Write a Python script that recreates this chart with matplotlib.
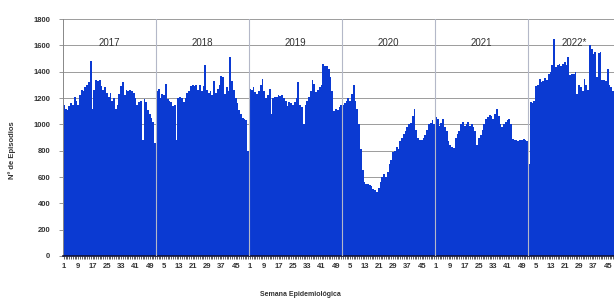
import matplotlib.pyplot as plt
import numpy as np

plt.rcParams['font.family'] = ['Liberation Sans', 'DejaVu Sans']

# weekly episodes per year
y2017 = [1150, 1120, 1110, 1140, 1160, 1150, 1210, 1180, 1150, 1220,
         1260, 1250, 1280, 1300, 1320, 1480, 1120, 1260, 1340, 1330,
         1340, 1290, 1260, 1280, 1240, 1210, 1240, 1180, 1200, 1120,
         1150, 1230, 1290, 1320, 1220, 1260, 1250, 1260, 1250, 1240,
         1200, 1150, 1170, 1180, 880, 1190, 1170, 1110, 1080, 1050,
         1020, 860]
y2018 = [1250, 1270, 1200, 1230, 1220, 1310, 1190, 1180, 1170, 1140,
         1150, 880, 1200, 1210, 1200, 1170, 1200, 1240, 1250, 1290,
         1300, 1290, 1300, 1260, 1300, 1250, 1290, 1450, 1260, 1240,
         1250, 1220, 1330, 1240, 1270, 1300, 1370, 1360, 1230, 1280,
         1250, 1510, 1330, 1260, 1200, 1160, 1110, 1080, 1050, 1040,
         1030, 800]
y2019 = [1270, 1260, 1280, 1245, 1230, 1250, 1300, 1347, 1250, 1200,
         1220, 1270, 1080, 1200, 1210, 1207, 1220, 1215, 1225, 1200,
         1180, 1140, 1170, 1165, 1150, 1170, 1200, 1321, 1150, 1130,
         1006, 1150, 1180, 1210, 1250, 1334, 1310, 1245, 1260, 1280,
         1300, 1461, 1440, 1445, 1420, 1360, 1250, 1100, 1120, 1110,
         1130, 1150]
y2020 = [1150, 1160, 1180, 1200, 1180, 1230, 1300, 1180, 1120, 1000,
         815, 650, 560, 550, 550, 540, 530, 510, 500, 485,
         520, 560, 600, 625, 600, 640, 700, 730, 790, 800,
         830, 810, 870, 900, 930, 950, 980, 1000, 1010, 1060,
         1120, 960, 900, 880, 880, 900, 920, 960, 1000, 1010,
         1030, 1000]
y2021 = [1055, 1040, 990, 1010, 1040, 980, 950, 870, 840, 830,
         820, 900, 930, 950, 1000, 1020, 990, 1000, 1020, 990,
         1000, 980, 950, 840, 900, 920, 960, 1000, 1040, 1055,
         1070, 1060, 1040, 1080, 1119, 1060, 1000, 980, 1000, 1020,
         1030, 1042, 1000, 890, 880, 880, 870, 880, 880, 885,
         880, 870]
y2022 = [700, 1170, 1160, 1180, 1290, 1300, 1347, 1320, 1330, 1350,
         1340, 1380, 1397, 1448, 1651, 1435, 1448, 1460, 1440, 1460,
         1470, 1450, 1511, 1372, 1380, 1384, 1397, 1233, 1300, 1280,
         1250, 1347, 1300, 1260, 1600, 1574, 1536, 1550, 1360, 1540,
         1549, 1334, 1340, 1330, 1423, 1300, 1280, 1250]

years = ['2017', '2018', '2019', '2020', '2021', '2022*']
series = [y2017, y2018, y2019, y2020, y2021, y2022]

values = np.concatenate(series)
weeks = np.concatenate([np.arange(1, len(s) + 1) for s in series])
x = np.arange(len(values))

fig = plt.figure(figsize=(6.14, 3.0), dpi=100)
ax = fig.add_axes([63/614, 1 - 256/300, 1 - 63/614, (256 - 19)/300])

ax.bar(x, values, width=1.0, color='#0b3ad2', linewidth=0, zorder=2)

# horizontal grid
ax.set_ylim(0, 1800)
ax.set_yticks(np.arange(0, 1801, 200))
ax.yaxis.grid(True, color='#8c8c8c', linewidth=0.6, zorder=0)
ax.set_axisbelow(True)

# year separators and labels
start = 0
for name, s in zip(years, series):
    if start > 0:
        ax.axvline(start - 0.5, color='#b4b8c8', linewidth=0.8, zorder=3)
    ax.text(start + 25.5, 1620, name, ha='center', va='center',
            fontsize=7, color='#333333', zorder=4)
    start += len(s)

ax.set_xlim(-0.5, len(values) - 0.5)
tick_pos = x[::8]
ax.set_xticks(tick_pos)
ax.set_xticklabels([str(w) for w in weeks[::8]], fontsize=5.5,
                   fontweight='bold', color='#333333')
ax.set_xticks(x, minor=True)
ax.tick_params(axis='x', which='both', length=2, width=0.5, color='#222222', pad=3)
ax.tick_params(axis='y', length=3, width=0.6, color='#888888', labelsize=5.5,
               labelcolor='#333333', pad=6)
for lab in ax.get_yticklabels():
    lab.set_fontweight('bold')

ax.spines['top'].set_visible(False)
ax.spines['right'].set_visible(False)
ax.spines['left'].set_color('#888888')
ax.spines['left'].set_linewidth(0.7)
ax.spines['bottom'].set_color('#111133')
ax.spines['bottom'].set_linewidth(1.2)

fig.text(12/614, 0.5, 'Nº de Episodios', rotation=90, ha='center', va='center',
         fontsize=5.5, fontweight='bold', color='#333333')
fig.text(300/614, 1 - 294/300, 'Semana Epidemiológica', ha='center', va='center',
         fontsize=5, fontweight='bold', color='#333333')

fig.savefig('out.png', dpi=100)
